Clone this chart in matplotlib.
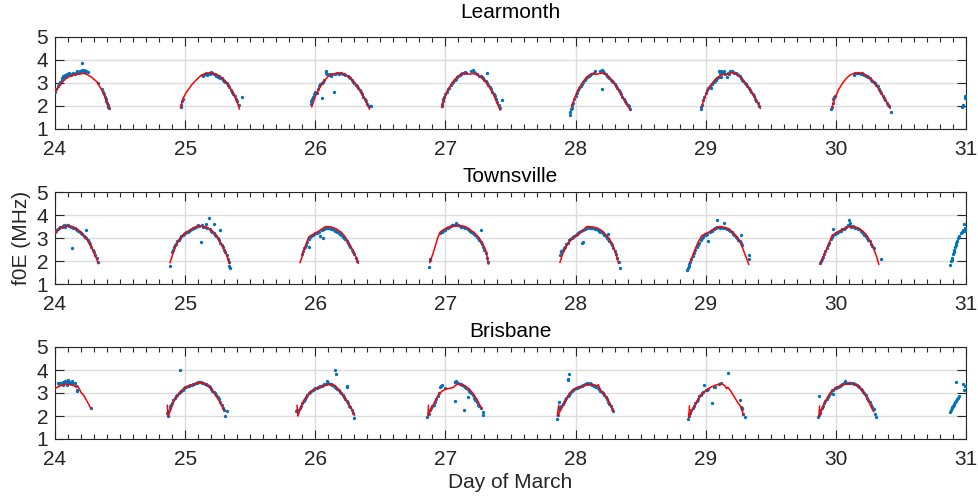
import matplotlib
matplotlib.use("Agg")
import matplotlib.pyplot as plt
from matplotlib.ticker import MultipleLocator

plt.rcParams['font.family'] = ['Liberation Sans', 'DejaVu Sans']

stations = ["Learmonth", "Townsville", "Brisbane"]
x_ticks = [24, 25, 26, 27, 28, 29, 30, 31]
y_ticks = [1, 2, 3, 4, 5]
x_label = "Day of March"
y_label = "f0E (MHz)"

# ---------------- Learmonth ----------------
learmonth_fit = [
    [(24.0, 2.6), (24.038, 2.91), (24.077, 3.16), (24.115, 3.30), (24.154, 3.38), (24.192, 3.39), (24.218, 3.42),
     (24.243, 3.38), (24.282, 3.25), (24.32, 3.06), (24.359, 2.70), (24.384, 2.41), (24.402, 2.12), (24.418, 1.86)],
    [(24.966, 1.93), (24.975, 2.15), (24.99, 2.4), (25.015, 2.64), (25.05, 2.92), (25.09, 3.16), (25.12, 3.32),
     (25.15, 3.4), (25.19, 3.42), (25.22, 3.41), (25.25, 3.35), (25.29, 3.18), (25.32, 3.0), (25.35, 2.75),
     (25.37, 2.55), (25.39, 2.3), (25.405, 2.1), (25.417, 1.87)],
    [(25.973, 1.97), (25.99, 2.25), (26.01, 2.55), (26.04, 2.85), (26.07, 3.1), (26.1, 3.3), (26.13, 3.38),
     (26.16, 3.42), (26.2, 3.42), (26.23, 3.38), (26.27, 3.22), (26.31, 2.95), (26.35, 2.62), (26.38, 2.3),
     (26.4, 2.05), (26.416, 1.87)],
    [(26.972, 1.94), (26.99, 2.3), (27.01, 2.6), (27.04, 2.9), (27.07, 3.15), (27.1, 3.3), (27.13, 3.4),
     (27.16, 3.42), (27.19, 3.38), (27.22, 3.42), (27.25, 3.35), (27.28, 3.22), (27.31, 3.05), (27.34, 2.8),
     (27.37, 2.5), (27.395, 2.15), (27.42, 1.83)],
    [(27.97, 1.98), (27.99, 2.3), (28.01, 2.6), (28.04, 2.9), (28.07, 3.15), (28.1, 3.32), (28.13, 3.42),
     (28.16, 3.38), (28.19, 3.42), (28.22, 3.42), (28.25, 3.3), (28.28, 3.12), (28.31, 2.88), (28.34, 2.6),
     (28.37, 2.3), (28.395, 2.05), (28.42, 1.83)],
    [(28.97, 1.97), (28.99, 2.35), (29.02, 2.75), (29.05, 3.0), (29.08, 3.2), (29.11, 3.32), (29.14, 3.38),
     (29.17, 3.38), (29.2, 3.45), (29.23, 3.4), (29.26, 3.3), (29.29, 3.1), (29.32, 2.88), (29.35, 2.62),
     (29.38, 2.35), (29.4, 2.15), (29.419, 1.9)],
    [(29.97, 1.93), (29.99, 2.3), (30.02, 2.7), (30.05, 2.98), (30.08, 3.2), (30.11, 3.35), (30.14, 3.42),
     (30.17, 3.42), (30.2, 3.42), (30.23, 3.35), (30.26, 3.22), (30.29, 3.05), (30.32, 2.82), (30.35, 2.55),
     (30.38, 2.28), (30.4, 2.08), (30.418, 1.9)],
]
learmonth_obs = [
    (24.00, 2.62), (24.01, 2.72), (24.02, 2.85), (24.03, 2.95), (24.035, 3.05), (24.04, 2.98), (24.05, 3.15),
    (24.055, 3.22), (24.06, 3.3), (24.07, 3.25), (24.075, 3.35), (24.085, 3.32), (24.09, 3.4), (24.1, 3.38),
    (24.11, 3.42), (24.12, 3.35), (24.13, 3.4), (24.14, 3.45), (24.15, 3.38), (24.16, 3.42), (24.17, 3.5),
    (24.18, 3.45), (24.19, 3.52), (24.2, 3.48), (24.205, 3.85), (24.21, 3.55), (24.22, 3.5), (24.225, 3.58),
    (24.23, 3.46), (24.24, 3.52), (24.25, 3.48), (24.33, 3.0), (24.36, 2.72), (24.37, 2.6), (24.375, 2.5),
    (24.385, 2.4), (24.39, 2.3), (24.395, 2.2), (24.4, 2.12), (24.405, 2.05), (24.41, 1.95), (24.415, 1.9),
    (24.965, 1.95), (24.97, 2.05), (24.975, 2.2), (24.98, 2.3), (25.13, 3.35), (25.14, 3.3), (25.15, 3.38),
    (25.16, 3.42), (25.17, 3.36), (25.18, 3.45), (25.19, 3.4), (25.2, 3.46), (25.21, 3.44), (25.22, 3.4),
    (25.23, 3.38), (25.24, 3.32), (25.25, 3.28), (25.26, 3.3), (25.27, 3.2), (25.28, 3.22), (25.29, 3.15),
    (25.3, 3.1), (25.31, 3.05), (25.32, 2.98), (25.33, 2.9), (25.34, 2.82), (25.35, 2.7), (25.36, 2.62),
    (25.37, 2.52), (25.38, 2.42), (25.39, 2.3), (25.4, 2.2), (25.41, 2.05), (25.44, 2.38),
    (25.965, 2.1), (25.97, 2.2), (25.975, 2.3), (25.985, 2.4), (25.99, 2.5), (26.0, 2.6), (26.01, 2.55),
    (26.02, 2.75), (26.03, 2.85), (26.05, 2.33), (26.04, 2.95), (26.05, 3.0), (26.06, 3.05), (26.07, 3.15),
    (26.08, 3.45), (26.085, 3.5), (26.09, 3.4), (26.1, 3.35), (26.11, 3.38), (26.12, 3.3), (26.14, 2.62),
    (26.13, 3.4), (26.15, 3.38), (26.17, 3.42), (26.18, 3.4), (26.19, 3.45), (26.2, 3.42), (26.21, 3.4),
    (26.22, 3.38), (26.23, 3.35), (26.25, 3.3), (26.26, 3.25), (26.27, 3.2), (26.28, 3.12), (26.29, 3.05),
    (26.3, 3.0), (26.31, 2.92), (26.32, 2.85), (26.33, 2.78), (26.34, 2.7), (26.35, 2.6), (26.36, 2.5),
    (26.37, 2.4), (26.38, 2.3), (26.39, 2.2), (26.4, 2.1), (26.41, 2.0), (26.42, 2.0), (26.43, 2.02),
    (26.97, 1.98), (26.975, 2.1), (26.98, 2.2), (26.985, 2.3), (26.99, 2.38), (27.0, 2.5), (27.01, 2.62),
    (27.02, 2.72), (27.03, 2.8), (27.04, 2.9), (27.05, 2.98), (27.06, 3.05), (27.07, 3.12), (27.08, 3.18),
    (27.09, 3.25), (27.1, 3.3), (27.11, 3.35), (27.12, 3.4), (27.13, 3.42), (27.14, 3.45), (27.15, 3.48),
    (27.16, 3.45), (27.2, 3.5), (27.21, 3.55), (27.22, 3.48), (27.23, 3.42), (27.24, 3.38), (27.26, 3.32),
    (27.27, 3.3), (27.28, 3.25), (27.29, 3.2), (27.3, 3.12), (27.31, 3.08), (27.318, 3.42), (27.32, 3.0),
    (27.33, 2.92), (27.34, 2.82), (27.35, 2.72), (27.36, 2.62), (27.37, 2.52), (27.38, 2.42), (27.39, 2.3),
    (27.4, 2.18), (27.41, 2.05), (27.42, 1.9), (27.433, 2.26),
    (27.958, 1.61), (27.96, 1.72), (27.965, 1.85), (27.97, 1.92), (27.975, 2.05), (27.98, 2.15), (27.99, 2.3),
    (28.0, 2.42), (28.01, 2.55), (28.02, 2.68), (28.03, 2.78), (28.04, 2.88), (28.05, 2.95), (28.06, 3.05),
    (28.07, 3.12), (28.08, 3.2), (28.09, 3.25), (28.1, 3.3), (28.11, 3.35), (28.12, 3.38), (28.14, 3.42),
    (28.15, 3.53), (28.19, 3.53), (28.2, 3.55), (28.21, 3.52), (28.2, 2.72), (28.22, 3.42), (28.23, 3.38),
    (28.24, 3.32), (28.25, 3.28), (28.26, 3.22), (28.27, 3.15), (28.28, 3.1), (28.29, 3.05), (28.3, 2.95),
    (28.31, 2.88), (28.32, 2.8), (28.33, 2.7), (28.34, 2.6), (28.35, 2.5), (28.36, 2.4), (28.37, 2.3),
    (28.38, 2.2), (28.39, 2.12), (28.4, 2.05), (28.41, 1.98), (28.42, 1.88),
    (28.96, 1.85), (28.965, 1.95), (28.97, 2.05), (28.98, 2.25), (28.99, 2.4), (29.0, 2.55), (29.01, 2.7),
    (29.02, 2.78), (29.03, 2.85), (29.04, 2.8), (29.05, 2.95), (29.06, 3.05), (29.07, 3.1), (29.08, 3.15),
    (29.09, 3.2), (29.1, 3.25), (29.1, 3.5), (29.11, 3.45), (29.12, 3.5), (29.13, 3.45), (29.14, 3.5),
    (29.12, 3.25), (29.16, 3.28), (29.15, 3.38), (29.17, 3.42), (29.18, 3.4), (29.19, 3.5), (29.2, 3.52),
    (29.21, 3.48), (29.22, 3.45), (29.23, 3.42), (29.24, 3.38), (29.25, 3.35), (29.26, 3.3), (29.27, 3.22),
    (29.28, 3.15), (29.29, 3.1), (29.3, 3.02), (29.31, 2.95), (29.32, 2.88), (29.33, 2.78), (29.34, 2.7),
    (29.35, 2.6), (29.36, 2.5), (29.37, 2.42), (29.38, 2.32), (29.39, 2.22), (29.4, 2.12), (29.41, 2.02),
    (29.965, 1.85), (29.97, 1.95), (29.975, 2.15), (29.98, 2.3), (29.985, 2.4), (29.99, 2.45), (30.14, 3.35),
    (30.15, 3.45), (30.16, 3.42), (30.17, 3.45), (30.18, 3.42), (30.19, 3.4), (30.2, 3.42), (30.21, 3.38),
    (30.22, 3.35), (30.23, 3.32), (30.24, 3.3), (30.25, 3.25), (30.26, 3.2), (30.27, 3.15), (30.28, 3.1),
    (30.29, 3.05), (30.3, 3.0), (30.31, 2.92), (30.32, 2.85), (30.33, 2.75), (30.34, 2.65), (30.35, 2.55),
    (30.36, 2.45), (30.37, 2.35), (30.38, 2.25), (30.39, 2.15), (30.4, 2.05), (30.41, 1.98), (30.42, 1.75),
    (30.97, 1.97), (30.975, 2.05), (30.98, 2.0), (30.99, 2.35), (30.995, 2.42), (31.0, 2.45),
]

# ---------------- Townsville ----------------
townsville_fit = [
    [(24.0, 3.2), (24.02, 3.35), (24.04, 3.43), (24.065, 3.5), (24.1, 3.53), (24.13, 3.5), (24.16, 3.42),
     (24.19, 3.3), (24.22, 3.12), (24.24, 2.99), (24.26, 2.8), (24.28, 2.6), (24.3, 2.35), (24.315, 2.15),
     (24.333, 1.89)],
    [(24.884, 1.93), (24.91, 2.39), (24.93, 2.7), (24.95, 2.89), (24.97, 3.05), (24.99, 3.17), (25.03, 3.32),
     (25.07, 3.46), (25.12, 3.53), (25.17, 3.46), (25.22, 3.24), (25.25, 3.02), (25.27, 2.81), (25.29, 2.6),
     (25.31, 2.39), (25.325, 2.15), (25.34, 1.89)],
    [(25.883, 1.93), (25.91, 2.4), (25.93, 2.75), (25.95, 3.05), (25.98, 3.15), (26.0, 3.2), (26.04, 3.35),
     (26.08, 3.5), (26.12, 3.48), (26.16, 3.4), (26.2, 3.25), (26.23, 3.05), (26.26, 2.75), (26.29, 2.45),
     (26.31, 2.2), (26.33, 1.9)],
    [(26.88, 1.93), (26.9, 2.25), (26.92, 2.61), (26.94, 3.0), (26.96, 3.26), (26.99, 3.38), (27.02, 3.47),
     (27.06, 3.52), (27.09, 3.54), (27.12, 3.53), (27.15, 3.5), (27.18, 3.4), (27.215, 3.26), (27.245, 3.1),
     (27.27, 2.9), (27.29, 2.7), (27.31, 2.47), (27.32, 2.2), (27.33, 1.87)],
    [(27.88, 1.94), (27.9, 2.3), (27.92, 2.54), (27.94, 2.75), (27.96, 2.9), (27.99, 3.05), (28.02, 3.16),
     (28.05, 3.3), (28.087, 3.5), (28.11, 3.49), (28.14, 3.47), (28.17, 3.42), (28.2, 3.33), (28.23, 3.15),
     (28.26, 2.97), (28.28, 2.75), (28.3, 2.47), (28.315, 2.2), (28.33, 1.9)],
    [(28.88, 1.94), (28.9, 2.25), (28.92, 2.53), (28.94, 2.8), (28.97, 3.1), (29.0, 3.2), (29.02, 3.24),
     (29.05, 3.35), (29.085, 3.46), (29.12, 3.48), (29.15, 3.46), (29.18, 3.38), (29.21, 3.24), (29.24, 3.05),
     (29.265, 2.81), (29.285, 2.55), (29.3, 2.31), (29.315, 2.1), (29.33, 1.86)],
    [(29.88, 1.86), (29.9, 2.15), (29.92, 2.39), (29.95, 2.8), (29.97, 3.1), (30.0, 3.22), (30.03, 3.31),
     (30.07, 3.42), (30.1, 3.5), (30.13, 3.49), (30.16, 3.46), (30.2, 3.33), (30.23, 3.17), (30.26, 2.9),
     (30.28, 2.67), (30.3, 2.4), (30.315, 2.15), (30.33, 1.86)],
]
townsville_obs = [
    (24.0, 3.25), (24.005, 3.35), (24.01, 3.3), (24.02, 3.4), (24.03, 3.45), (24.04, 3.48), (24.05, 3.5),
    (24.06, 3.52), (24.07, 3.55), (24.08, 3.5), (24.09, 3.56), (24.1, 3.55), (24.11, 3.52), (24.12, 3.5),
    (24.128, 2.57), (24.13, 3.48), (24.14, 3.45), (24.15, 3.42), (24.16, 3.38), (24.17, 3.35), (24.18, 3.3),
    (24.19, 3.28), (24.2, 3.22), (24.21, 3.18), (24.22, 3.1), (24.238, 3.36), (24.23, 3.05), (24.24, 3.0),
    (24.25, 2.92), (24.26, 2.82), (24.27, 2.72), (24.28, 2.62), (24.29, 2.5), (24.3, 2.38), (24.31, 2.25),
    (24.32, 2.15), (24.33, 1.95),
    (24.88, 1.77), (24.9, 2.4), (24.91, 2.5), (24.915, 2.6), (24.92, 2.7), (24.93, 2.75), (24.94, 2.85),
    (24.95, 2.92), (24.96, 3.0), (24.97, 3.08), (24.98, 3.12), (24.99, 3.18), (25.0, 3.2), (25.01, 3.25),
    (25.02, 3.28), (25.03, 3.3), (25.04, 3.35), (25.05, 3.38), (25.06, 3.42), (25.07, 3.45), (25.08, 3.5),
    (25.09, 3.52), (25.1, 3.55), (25.11, 3.52), (25.12, 2.84), (25.13, 3.55), (25.14, 3.5), (25.15, 3.48),
    (25.16, 3.63), (25.17, 3.45), (25.18, 3.86), (25.19, 3.38), (25.2, 3.32), (25.22, 3.6), (25.21, 3.28),
    (25.22, 3.22), (25.23, 3.15), (25.24, 3.08), (25.25, 3.0), (25.27, 3.36), (25.26, 2.9), (25.27, 2.8),
    (25.28, 2.7), (25.29, 2.6), (25.3, 2.48), (25.31, 2.38), (25.32, 2.25), (25.33, 2.1), (25.335, 1.95),
    (25.34, 1.8), (25.345, 1.7),
    (25.9, 2.3), (25.905, 2.45), (25.91, 2.55), (25.92, 2.6), (25.93, 2.7), (25.94, 2.82), (25.95, 2.63),
    (25.95, 2.95), (25.96, 3.05), (25.97, 3.1), (25.98, 3.12), (25.99, 3.18), (26.0, 3.2), (26.01, 3.22),
    (26.02, 3.25), (26.03, 3.28), (26.04, 3.1), (26.05, 3.35), (26.06, 2.98), (26.06, 3.38), (26.07, 3.4),
    (26.08, 3.42), (26.09, 3.45), (26.1, 3.42), (26.11, 3.45), (26.12, 3.4), (26.13, 3.38), (26.14, 3.35),
    (26.15, 3.32), (26.16, 3.3), (26.17, 3.28), (26.18, 3.22), (26.19, 3.18), (26.2, 3.12), (26.21, 3.05),
    (26.22, 3.0), (26.23, 2.95), (26.24, 2.85), (26.25, 2.78), (26.26, 2.7), (26.27, 2.6), (26.28, 2.5),
    (26.29, 2.4), (26.3, 2.3), (26.31, 2.15), (26.32, 2.0),
    (26.87, 1.73), (26.88, 2.04), (26.885, 2.08), (26.96, 3.2), (26.97, 3.28), (26.98, 3.32), (27.0, 3.33),
    (27.01, 3.42), (27.02, 3.45), (27.03, 3.5), (27.04, 3.52), (27.05, 3.55), (27.06, 3.58), (27.07, 3.55),
    (27.08, 3.64), (27.09, 3.58), (27.1, 3.55), (27.11, 3.52), (27.12, 3.5), (27.13, 3.5), (27.14, 3.48),
    (27.15, 3.45), (27.16, 3.42), (27.17, 3.4), (27.18, 3.35), (27.19, 3.3), (27.2, 3.28), (27.21, 3.22),
    (27.22, 3.18), (27.23, 3.12), (27.24, 3.05), (27.25, 2.98), (27.27, 3.33), (27.26, 2.9), (27.27, 2.82),
    (27.28, 2.72), (27.29, 2.62), (27.3, 2.5), (27.31, 2.35), (27.32, 2.15), (27.33, 1.95),
    (27.88, 2.26), (27.885, 2.4), (27.89, 2.45), (27.9, 2.5), (27.91, 2.55), (27.92, 2.6), (27.93, 2.72),
    (27.94, 2.8), (27.95, 2.9), (27.96, 2.95), (27.97, 3.0), (27.98, 3.05), (27.99, 3.1), (28.0, 3.12),
    (28.01, 3.18), (28.02, 3.2), (28.03, 3.25), (28.04, 3.3), (28.05, 2.78), (28.06, 2.82), (28.06, 3.35),
    (28.07, 3.4), (28.08, 3.42), (28.09, 3.45), (28.1, 3.48), (28.11, 3.45), (28.12, 3.42), (28.13, 3.45),
    (28.14, 3.42), (28.15, 3.4), (28.16, 3.38), (28.17, 3.35), (28.18, 3.3), (28.19, 3.28), (28.2, 3.25),
    (28.21, 3.2), (28.22, 3.15), (28.23, 3.1), (28.25, 3.19), (28.24, 3.02), (28.25, 2.95), (28.26, 2.88),
    (28.27, 2.78), (28.28, 2.68), (28.29, 2.55), (28.3, 2.42), (28.31, 2.3), (28.32, 2.12), (28.33, 1.95),
    (28.34, 1.69),
    (28.86, 1.6), (28.865, 1.7), (28.87, 1.78), (28.875, 1.85), (28.88, 1.95), (28.89, 2.1), (28.9, 2.2),
    (28.91, 2.35), (28.92, 2.48), (28.93, 2.6), (28.94, 2.7), (28.95, 2.8), (28.96, 2.9), (28.97, 2.98),
    (28.98, 3.05), (28.99, 3.12), (29.0, 3.15), (29.01, 3.18), (29.02, 2.89), (29.03, 3.25), (29.04, 3.3),
    (29.05, 3.32), (29.06, 3.38), (29.07, 3.42), (29.08, 3.45), (29.085, 3.77), (29.09, 3.48), (29.1, 3.5),
    (29.11, 3.45), (29.12, 3.48), (29.13, 3.45), (29.14, 3.64), (29.15, 3.42), (29.16, 3.4), (29.17, 3.38),
    (29.18, 3.35), (29.19, 3.3), (29.2, 3.25), (29.21, 3.18), (29.22, 3.12), (29.23, 3.05), (29.24, 3.0),
    (29.27, 3.14), (29.25, 2.92), (29.26, 2.85), (29.27, 2.78), (29.28, 2.7), (29.33, 2.24), (29.33, 2.07),
    (29.88, 1.9), (29.885, 2.0), (29.89, 2.08), (29.9, 2.18), (29.91, 2.3), (29.92, 2.42), (29.93, 2.55),
    (29.94, 2.68), (29.95, 2.8), (29.96, 2.95), (29.97, 3.05), (29.98, 3.41), (29.98, 3.12), (29.99, 3.18),
    (30.0, 3.2), (30.01, 3.22), (30.02, 3.25), (30.03, 3.3), (30.04, 3.32), (30.05, 3.38), (30.06, 3.4),
    (30.07, 3.45), (30.08, 3.5), (30.09, 3.55), (30.1, 3.79), (30.105, 3.67), (30.11, 3.52), (30.12, 3.5),
    (30.13, 3.52), (30.14, 3.48), (30.15, 3.45), (30.16, 3.42), (30.17, 3.4), (30.18, 3.38), (30.19, 3.32),
    (30.2, 3.28), (30.21, 3.22), (30.22, 3.15), (30.23, 3.08), (30.24, 3.0), (30.25, 2.92), (30.26, 2.85),
    (30.27, 2.75), (30.28, 2.65), (30.29, 2.55), (30.35, 2.1),
    (30.88, 1.83), (30.885, 2.0), (30.89, 2.14), (30.895, 2.05), (30.9, 2.29), (30.905, 2.4), (30.91, 2.5),
    (30.915, 2.6), (30.92, 2.7), (30.925, 2.78), (30.93, 2.85), (30.94, 3.0), (30.95, 3.1), (30.96, 3.2),
    (30.97, 3.25), (30.975, 3.32), (30.98, 3.35), (30.985, 3.6), (30.99, 3.3), (30.995, 3.45), (31.0, 3.4),
]

# ---------------- Brisbane ----------------
brisbane_fit = [
    [(24.0, 3.2), (24.038, 3.31), (24.07, 3.37), (24.09, 3.39), (24.11, 3.37), (24.128, 3.34), (24.15, 3.3),
     (24.167, 3.28), (24.175, 3.3), (24.2, 3.03), (24.22, 2.9), (24.243, 2.67), (24.26, 2.5), (24.274, 2.34)],
    [(24.863, 2.46), (24.87, 1.99), (24.89, 2.3), (24.91, 2.6), (24.93, 2.8), (24.95, 2.96), (24.975, 3.12),
     (25.0, 3.24), (25.035, 3.32), (25.07, 3.39), (25.1, 3.44), (25.12, 3.46), (25.145, 3.42), (25.17, 3.36),
     (25.195, 3.22), (25.22, 3.03), (25.24, 2.85), (25.26, 2.67), (25.28, 2.45), (25.3, 2.24)],
    [(25.86, 2.46), (25.865, 2.0), (25.89, 2.35), (25.91, 2.67), (25.93, 2.81), (25.96, 3.03), (25.985, 3.13),
     (26.01, 3.21), (26.04, 3.26), (26.07, 3.32), (26.09, 3.36), (26.13, 3.39), (26.155, 3.3), (26.18, 3.13),
     (26.205, 2.95), (26.23, 2.74), (26.255, 2.52), (26.28, 2.31), (26.3, 2.03)],
    [(26.87, 2.46), (26.865, 2.0), (26.89, 2.3), (26.91, 2.53), (26.93, 2.75), (26.95, 2.96), (26.975, 3.08),
     (27.0, 3.17), (27.03, 3.2), (27.06, 3.24), (27.09, 3.39), (27.115, 3.38), (27.14, 3.34), (27.165, 3.25),
     (27.19, 3.13), (27.215, 2.95), (27.24, 2.74), (27.26, 2.52), (27.28, 2.31)],
    [(27.87, 2.46), (27.86, 2.0), (27.89, 2.3), (27.91, 2.53), (27.93, 2.75), (27.95, 2.96), (27.97, 3.08),
     (27.99, 3.17), (28.04, 3.27), (28.075, 3.33), (28.11, 3.39), (28.14, 3.36), (28.165, 3.31), (28.175, 3.36),
     (28.19, 3.13), (28.22, 2.96), (28.24, 2.78), (28.26, 2.6), (28.275, 2.4), (28.29, 2.21)],
    [(28.875, 2.43), (28.87, 1.94), (28.89, 2.2), (28.91, 2.4), (28.935, 2.65), (28.96, 2.9), (28.99, 3.05),
     (29.02, 3.19), (29.05, 3.28), (29.085, 3.36), (29.125, 3.4), (29.15, 3.3), (29.16, 3.19), (29.17, 3.25),
     (29.19, 3.1), (29.22, 2.83), (29.245, 2.6), (29.27, 2.4), (29.29, 2.04)],
    [(29.875, 2.43), (29.87, 1.97), (29.89, 2.25), (29.91, 2.54), (29.935, 2.8), (29.96, 3.04), (29.985, 3.15),
     (30.01, 3.26), (30.045, 3.33), (30.08, 3.4), (30.13, 3.4), (30.155, 3.35), (30.18, 3.26), (30.2, 3.12),
     (30.22, 2.97), (30.24, 2.75), (30.26, 2.54), (30.275, 2.35), (30.29, 2.19)],
]
brisbane_obs = [
    (24.02, 3.43), (24.03, 3.39), (24.04, 3.42), (24.05, 3.45), (24.06, 3.5), (24.07, 3.45), (24.08, 3.52),
    (24.09, 3.48), (24.1, 3.56), (24.11, 3.5), (24.12, 3.45), (24.13, 3.52), (24.14, 3.45), (24.15, 3.42),
    (24.06, 3.35), (24.09, 3.33), (24.16, 3.3), (24.167, 3.13), (24.17, 3.1), (24.274, 2.36),
    (24.86, 2.13), (24.865, 2.2), (24.87, 2.0), (24.88, 2.35), (24.885, 2.42), (24.89, 2.5), (24.9, 2.58),
    (24.91, 2.7), (24.92, 2.78), (24.93, 2.85), (24.94, 2.92), (24.95, 3.0), (24.96, 3.99), (24.96, 3.05),
    (24.97, 3.1), (24.98, 3.15), (24.99, 3.2), (25.0, 3.25), (25.01, 3.28), (25.02, 3.3), (25.03, 3.32),
    (25.04, 3.35), (25.05, 3.36), (25.06, 3.38), (25.07, 3.4), (25.08, 3.42), (25.09, 3.45), (25.1, 3.48),
    (25.11, 3.46), (25.12, 3.48), (25.13, 3.45), (25.14, 3.42), (25.15, 3.4), (25.16, 3.38), (25.17, 3.35),
    (25.18, 3.3), (25.19, 3.25), (25.2, 3.18), (25.21, 3.1), (25.22, 3.05), (25.23, 2.98), (25.24, 2.9),
    (25.25, 2.82), (25.26, 2.72), (25.27, 2.6), (25.28, 2.48), (25.29, 2.35), (25.3, 2.25), (25.31, 1.99),
    (25.325, 2.2),
    (25.855, 2.2), (25.86, 2.25), (25.87, 2.28), (25.88, 2.35), (25.89, 2.45), (25.9, 2.55), (25.91, 2.65),
    (25.92, 2.72), (25.93, 2.82), (25.94, 2.9), (25.95, 2.98), (25.96, 3.05), (25.97, 3.1), (25.98, 3.15),
    (25.99, 3.18), (26.0, 3.2), (26.01, 3.22), (26.02, 3.25), (26.03, 3.28), (26.04, 3.3), (26.05, 3.32),
    (26.06, 3.35), (26.07, 3.38), (26.08, 3.4), (26.09, 3.53), (26.1, 3.42), (26.11, 3.4), (26.12, 3.38),
    (26.13, 3.35), (26.15, 3.99), (26.16, 3.84), (26.14, 3.32), (26.15, 3.28), (26.16, 3.22), (26.17, 3.18),
    (26.18, 3.12), (26.19, 3.05), (26.2, 2.98), (26.21, 2.9), (26.22, 2.82), (26.23, 2.75), (26.24, 3.31),
    (26.245, 3.28), (26.24, 2.65), (26.25, 2.55), (26.26, 2.45), (26.27, 2.38), (26.28, 2.28), (26.29, 2.15),
    (26.3, 1.93),
    (26.86, 1.96), (26.87, 2.1), (26.88, 2.25), (26.89, 2.35), (26.9, 2.42), (26.91, 2.5), (26.92, 2.62),
    (26.93, 2.75), (26.94, 2.88), (26.95, 3.0), (26.96, 3.25), (26.965, 3.31), (26.97, 3.33), (27.0, 3.2),
    (27.07, 2.64), (27.07, 3.48), (27.075, 3.5), (27.08, 3.52), (27.085, 3.48), (27.09, 3.45), (27.1, 3.42),
    (27.11, 3.4), (27.12, 3.38), (27.13, 3.35), (27.14, 2.27), (27.14, 3.32), (27.15, 3.28), (27.16, 3.22),
    (27.17, 2.81), (27.17, 3.18), (27.18, 3.1), (27.19, 3.05), (27.2, 2.98), (27.21, 2.9), (27.22, 2.8),
    (27.23, 2.7), (27.24, 2.6), (27.25, 2.5), (27.26, 2.42), (27.27, 2.35), (27.29, 2.17), (27.292, 2.03),
    (27.86, 1.89), (27.865, 2.05), (27.87, 2.6), (27.875, 2.3), (27.88, 2.4), (27.89, 2.45), (27.9, 2.52),
    (27.91, 2.6), (27.92, 2.7), (27.93, 2.78), (27.94, 3.56), (27.945, 3.6), (27.95, 3.84), (27.94, 2.85),
    (27.95, 2.92), (27.96, 3.0), (27.97, 3.08), (27.98, 3.12), (27.99, 3.18), (28.0, 3.2), (28.01, 3.22),
    (28.02, 3.25), (28.03, 3.28), (28.04, 3.3), (28.05, 3.32), (28.06, 3.35), (28.07, 3.38), (28.08, 3.4),
    (28.09, 3.42), (28.1, 3.4), (28.11, 3.42), (28.12, 3.38), (28.13, 3.35), (28.14, 3.32), (28.15, 3.3),
    (28.16, 3.28), (28.17, 3.22), (28.18, 3.18), (28.19, 3.1), (28.2, 3.05), (28.21, 2.98), (28.22, 2.9),
    (28.23, 2.82), (28.24, 2.72), (28.25, 2.62), (28.26, 2.52), (28.27, 2.42), (28.28, 2.32), (28.29, 2.22),
    (28.865, 1.87), (28.87, 2.0), (28.875, 2.08), (28.88, 2.15), (28.89, 2.25), (28.9, 2.35), (28.91, 2.42),
    (28.92, 2.55), (28.93, 2.65), (28.94, 2.75), (28.95, 2.85), (28.96, 2.92), (28.97, 3.0), (28.98, 3.05),
    (28.99, 3.33), (29.0, 3.12), (29.01, 3.15), (29.02, 3.18), (29.05, 2.57), (29.06, 3.28), (29.07, 3.25),
    (29.1, 3.4), (29.12, 3.42), (29.17, 3.86), (29.26, 2.69), (29.27, 2.4), (29.275, 2.35), (29.28, 2.3),
    (29.285, 2.1), (29.3, 1.97),
    (29.865, 1.95), (29.87, 2.05), (29.87, 2.86), (29.875, 2.15), (29.88, 2.25), (29.89, 2.35), (29.9, 2.45),
    (29.91, 2.55), (29.92, 2.65), (29.93, 2.72), (29.94, 2.82), (29.95, 2.9), (29.96, 2.98), (29.97, 3.11),
    (29.975, 2.95), (29.98, 3.15), (29.99, 3.2), (30.0, 3.22), (30.01, 3.25), (30.02, 3.28), (30.03, 3.3),
    (30.04, 3.35), (30.05, 3.38), (30.06, 3.42), (30.07, 3.51), (30.08, 3.45), (30.09, 3.42), (30.1, 3.45),
    (30.11, 3.42), (30.12, 3.45), (30.13, 3.42), (30.14, 3.4), (30.15, 3.38), (30.16, 3.35), (30.17, 3.3),
    (30.18, 3.25), (30.19, 3.18), (30.2, 3.12), (30.21, 3.05), (30.22, 2.98), (30.23, 2.9), (30.24, 2.8),
    (30.25, 2.7), (30.26, 2.6), (30.27, 2.5), (30.28, 2.4), (30.29, 2.3), (30.3, 2.1), (30.31, 1.97),
    (30.88, 2.19), (30.885, 2.25), (30.89, 2.33), (30.895, 2.38), (30.9, 2.43), (30.905, 2.5), (30.91, 2.54),
    (30.915, 2.6), (30.92, 2.67), (30.92, 3.49), (30.93, 2.74), (30.94, 2.8), (30.95, 2.86), (30.98, 3.4),
    (30.985, 3.14), (30.995, 3.3),
]

fits = [learmonth_fit, townsville_fit, brisbane_fit]
obs = [learmonth_obs, townsville_obs, brisbane_obs]

W, H = 979, 496
fig = plt.figure(figsize=(W / 100, H / 100), dpi=100)

ax_left = 55 / W
ax_width = (966 - 55) / W
tops = [37, 192, 347]
title_pads = [14, 7, 7]
ax_h = 92

AXC = '#262626'
for i, name in enumerate(stations):
    top = tops[i]
    ax = fig.add_axes([ax_left, 1 - (top + ax_h) / H, ax_width, ax_h / H])
    ax.set_xlim(24, 31)
    ax.set_ylim(1, 5)
    ax.set_xticks(x_ticks)
    ax.set_yticks(y_ticks)
    ax.xaxis.set_minor_locator(MultipleLocator(0.1))
    ax.grid(True, which='major', color='#dcdcdc', linewidth=1.0)
    ax.set_axisbelow(True)
    ax.tick_params(which='both', direction='in', top=True, right=True, colors=AXC,
                   labelsize=15, width=0.8)
    ax.tick_params(which='major', length=6.5)
    ax.tick_params(which='minor', length=3.5)
    ax.tick_params(axis='x', pad=8)
    ax.tick_params(axis='y', pad=5)
    for s in ax.spines.values():
        s.set_color(AXC)
        s.set_linewidth(0.8)
    pts = obs[i]
    ax.plot([p[0] for p in pts], [p[1] for p in pts], 'o', ms=2.4, mew=0,
            color='#0072BD', zorder=3)
    for arc in fits[i]:
        ax.plot([p[0] for p in arc], [p[1] for p in arc], '-', color='red',
                lw=1.1, zorder=4)
    ax.set_title(name, fontsize=15, color='black', pad=title_pads[i])

fig.text(22 / W, 1 - 238 / H, y_label, rotation=90, ha='center', va='center',
         fontsize=15, color=AXC)
fig.text((55 + 966) / 2 / W, 1 - 483 / H, x_label, ha='center', va='center',
         fontsize=15, color=AXC)

fig.savefig("out.png", dpi=100)
